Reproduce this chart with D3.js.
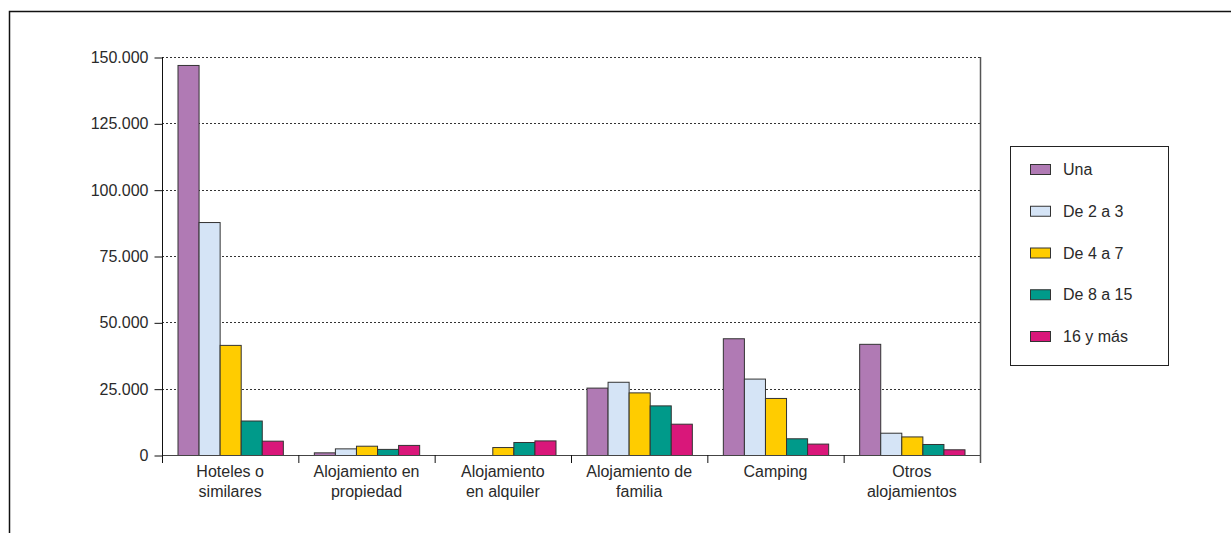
<html>
<head>
<meta charset="utf-8">
<style>
body { margin: 0; background: #fff; }
svg text { font-family: "Liberation Sans", Arial, sans-serif; fill: #2a2a2a; }
.grid line { stroke: #333; stroke-dasharray: 2,2; }
</style>
<script src="https://cdn.jsdelivr.net/npm/d3@7"></script>
</head>
<body>
<svg width="1231" height="533"></svg>
<script>

var categories = [["Hoteles o", "similares"], ["Alojamiento en", "propiedad"], ["Alojamiento", "en alquiler"],
                  ["Alojamiento de", "familia"], ["Camping"], ["Otros", "alojamientos"]];
var seriesNames = ["Una", "De 2 a 3", "De 4 a 7", "De 8 a 15", "16 y más"];
var colors = ["#b07ab4", "#d5e4f6", "#ffcc00", "#009a8a", "#d9177a"];

var una     = [147000, 1000, 0, 25400, 44000, 41900];
var de2a3   = [87800, 2500, 0, 27600, 28800, 8400];
var de4a7   = [41500, 3500, 3000, 23600, 21500, 7000];
var de8a15  = [13000, 2300, 4900, 18700, 6300, 4150];
var de16    = [5400, 3800, 5500, 11800, 4300, 2150];
var series = [una, de2a3, de4a7, de8a15, de16];

var yTicks = [0, 25000, 50000, 75000, 100000, 125000, 150000];

var svg = d3.select("svg");
var plotL = 162, plotR = 980, plotT = 57, plotB = 455;
var fs = 16;

// outer frame
svg.append("path").attr("d", "M9.5,540V11.5H1240")
  .attr("fill", "none").attr("stroke", "#111").attr("stroke-width", 1.5);

var x0 = d3.scaleBand().domain(d3.range(categories.length)).range([plotL, plotR]).paddingInner(0).paddingOuter(0);
var x1 = d3.scaleBand().domain(d3.range(seriesNames.length)).range([15.5, x0.bandwidth() - 15.5]);
var y = d3.scaleLinear().domain([0, 150000]).range([plotB, plotT]);

var fmt = function(v) { return d3.format(",")(v).replace(/,/g, "."); };

// gridlines
svg.append("g").attr("class", "grid")
  .selectAll("line").data(yTicks.slice(1)).enter().append("line")
    .attr("x1", plotL).attr("x2", plotR)
    .attr("y1", function(d) { return Math.round(y(d)) + 0.5; })
    .attr("y2", function(d) { return Math.round(y(d)) + 0.5; });

// bars
var groups = svg.append("g").selectAll("g").data(series).enter().append("g")
  .attr("fill", function(d, i) { return colors[i]; });
groups.each(function(vals, si) {
  var pts = vals.map(function(v, ci) { return { v: v, c: ci }; }).filter(function(p) { return p.v > 0; });
  d3.select(this).selectAll("rect").data(pts).enter().append("rect")
    .attr("x", function(p) { return x0(p.c) + x1(si) + 0.5; })
    .attr("y", function(p) { return y(p.v) + 0.5; })
    .attr("width", x1.bandwidth())
    .attr("height", function(p) { return plotB - y(p.v); })
    .attr("stroke", "#333").attr("stroke-width", 1);
});

// baseline
svg.append("line").attr("x1", plotL).attr("x2", plotR)
  .attr("y1", plotB + 0.5).attr("y2", plotB + 0.5)
  .attr("stroke", "#444").attr("stroke-width", 1);

// left axis
var yAxis = svg.append("g").attr("transform", "translate(" + (plotL + 0.5) + ",0.5)")
  .call(d3.axisLeft(y).tickValues(yTicks).tickFormat(fmt).tickSize(8).tickPadding(6));
yAxis.select(".domain").remove();
yAxis.selectAll(".tick line").attr("stroke", "#111");
yAxis.selectAll("text").attr("font-size", fs).attr("font-family", "Liberation Sans, Arial, sans-serif").attr("fill", "#2a2a2a");
svg.append("line").attr("x1", plotL + 0.5).attr("x2", plotL + 0.5).attr("y1", plotT).attr("y2", plotB + 8)
  .attr("stroke", "#111");
// right border
svg.append("line").attr("x1", plotR + 0.5).attr("x2", plotR + 0.5).attr("y1", plotT).attr("y2", plotB + 8)
  .attr("stroke", "#555").attr("stroke-width", 1.5);

// category ticks
svg.append("g").selectAll("line").data(d3.range(1, categories.length)).enter().append("line")
  .attr("x1", function(d) { return x0(d) + 0.5; }).attr("x2", function(d) { return x0(d) + 0.5; })
  .attr("y1", plotB).attr("y2", plotB + 8).attr("stroke", "#111");

// category labels
var lab = svg.append("g").selectAll("text").data(categories).enter().append("text")
  .attr("text-anchor", "middle").attr("font-size", fs)
  .attr("x", function(d, i) { return x0(i) + x0.bandwidth() / 2; })
  .attr("y", 477);
lab.selectAll("tspan").data(function(d) { return d; }).enter().append("tspan")
  .attr("x", function() { return d3.select(this.parentNode).attr("x"); })
  .attr("dy", function(d, i) { return i ? 20 : 0; })
  .text(function(d) { return d; });

// legend
var lg = svg.append("g");
lg.append("rect").attr("x", 1010.5).attr("y", 146.5).attr("width", 158).attr("height", 219)
  .attr("fill", "#fff").attr("stroke", "#222");
var items = lg.selectAll("g").data(seriesNames).enter().append("g")
  .attr("transform", function(d, i) { return "translate(0," + (169.5 + i * 41.75) + ")"; });
items.append("rect").attr("x", 1030.5).attr("y", -5).attr("width", 20).attr("height", 10)
  .attr("fill", function(d, i) { return colors[i]; }).attr("stroke", "#333");
items.append("text").attr("x", 1063).attr("y", 5.5).attr("font-size", fs).text(function(d) { return d; });

</script>
</body>
</html>
